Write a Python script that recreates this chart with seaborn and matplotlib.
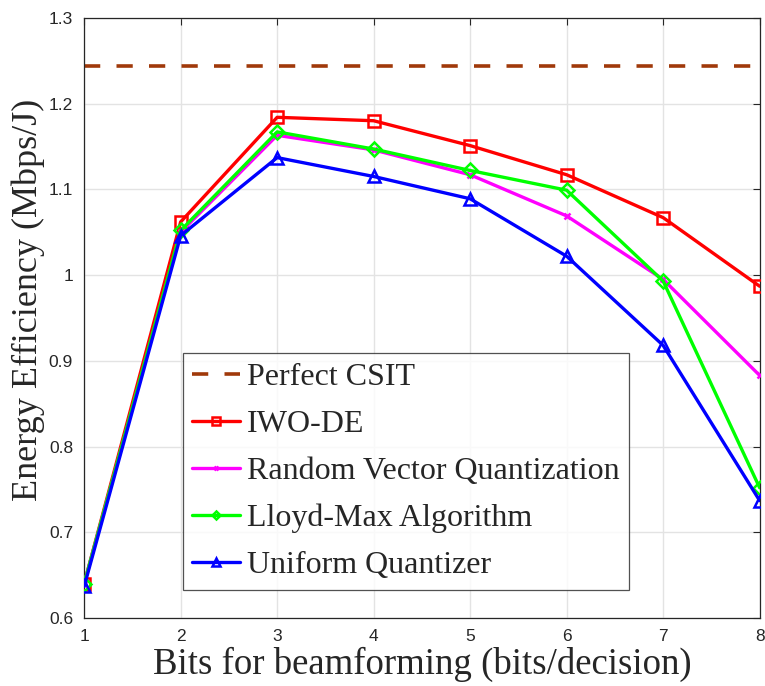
import matplotlib
matplotlib.use("Agg")
import matplotlib.pyplot as plt
import seaborn as sns
import pandas as pd

bits = [1, 2, 3, 4, 5, 6, 7, 8]
perfect_csit = 1.244
iwo_de = [0.640, 1.062, 1.184, 1.180, 1.151, 1.117, 1.067, 0.987]
rvq = [0.640, 1.050, 1.163, 1.146, 1.117, 1.069, 0.995, 0.883]
lloyd = [0.640, 1.052, 1.167, 1.147, 1.122, 1.099, 0.993, 0.752]
uniform = [0.637, 1.046, 1.137, 1.115, 1.089, 1.022, 0.918, 0.737]
series_names = ["IWO-DE", "Random Vector Quantization", "Lloyd-Max Algorithm", "Uniform Quantizer"]
yticks = [0.6, 0.7, 0.8, 0.9, 1.0, 1.1, 1.2, 1.3]
ytick_labels = ["0.6", "0.7", "0.8", "0.9", "1", "1.1", "1.2", "1.3"]

sns.set_theme(style="white")
plt.rcParams["font.family"] = ["Liberation Sans", "DejaVu Sans"]

fig = plt.figure(figsize=(7.65, 6.86), dpi=100)
ax = fig.add_axes([0.110, 0.099, 0.883, 0.875])

values = [iwo_de, rvq, lloyd, uniform]
colors = ["#ff0000", "#ff00ff", "#00ff00", "#0000ff"]
markers = ["s", "x", "D", "^"]
msizes = [8, 5, 7, 9]

handles = []
hl = ax.axhline(perfect_csit, color="#a0390a", lw=2.6, dashes=(4.5, 4.5), label="Perfect CSIT", zorder=2)
handles.append(hl)

for name, vals, c, m, ms in zip(series_names, values, colors, markers, msizes):
    df = pd.DataFrame({"bits": bits, "ee": vals})
    sns.lineplot(data=df, x="bits", y="ee", ax=ax, color=c, lw=2.4, marker=m,
                 markersize=ms, markerfacecolor="none", markeredgecolor=c,
                 markeredgewidth=1.8, label=name, zorder=3)
    handles.append(ax.lines[-1])

ax.set_xlim(1, 8)
ax.set_ylim(0.6, 1.3)
ax.set_xticks(bits)
ax.set_xticklabels([str(b) for b in bits])
ax.set_yticks(yticks)
ax.set_yticklabels(ytick_labels)
ax.grid(True, color="#e3e3e3", lw=1.0)
ax.set_axisbelow(True)
for s in ax.spines.values():
    s.set_visible(True)
    s.set_color("#262626")
    s.set_linewidth(0.9)
ax.tick_params(direction="in", length=5, width=0.8, top=True, right=True,
               labelsize=12.5, colors="#262626", labelcolor="#262626", pad=8)

ax.set_xlabel("Bits for beamforming (bits/decision)", family=["Liberation Serif"], fontsize=26.5, color="#262626", labelpad=2)
ax.set_ylabel("Energy Efficiency (Mbps/J)", family=["Liberation Serif"], fontsize=26, color="#262626")
ax.yaxis.set_label_coords(-0.058, 0.53)

leg = ax.legend(handles=handles, labels=["Perfect CSIT"] + series_names,
                loc="lower left", bbox_to_anchor=(0.146, 0.047), frameon=True,
                prop={"family": "Liberation Serif", "size": 23},
                handlelength=1.5, handletextpad=0.2, labelspacing=0.55,
                borderpad=0.3, borderaxespad=0.0, fancybox=False, markerscale=0.65)
leg.get_frame().set_edgecolor("#262626")
leg.get_frame().set_linewidth(0.9)

fig.savefig("out.png", dpi=100)
